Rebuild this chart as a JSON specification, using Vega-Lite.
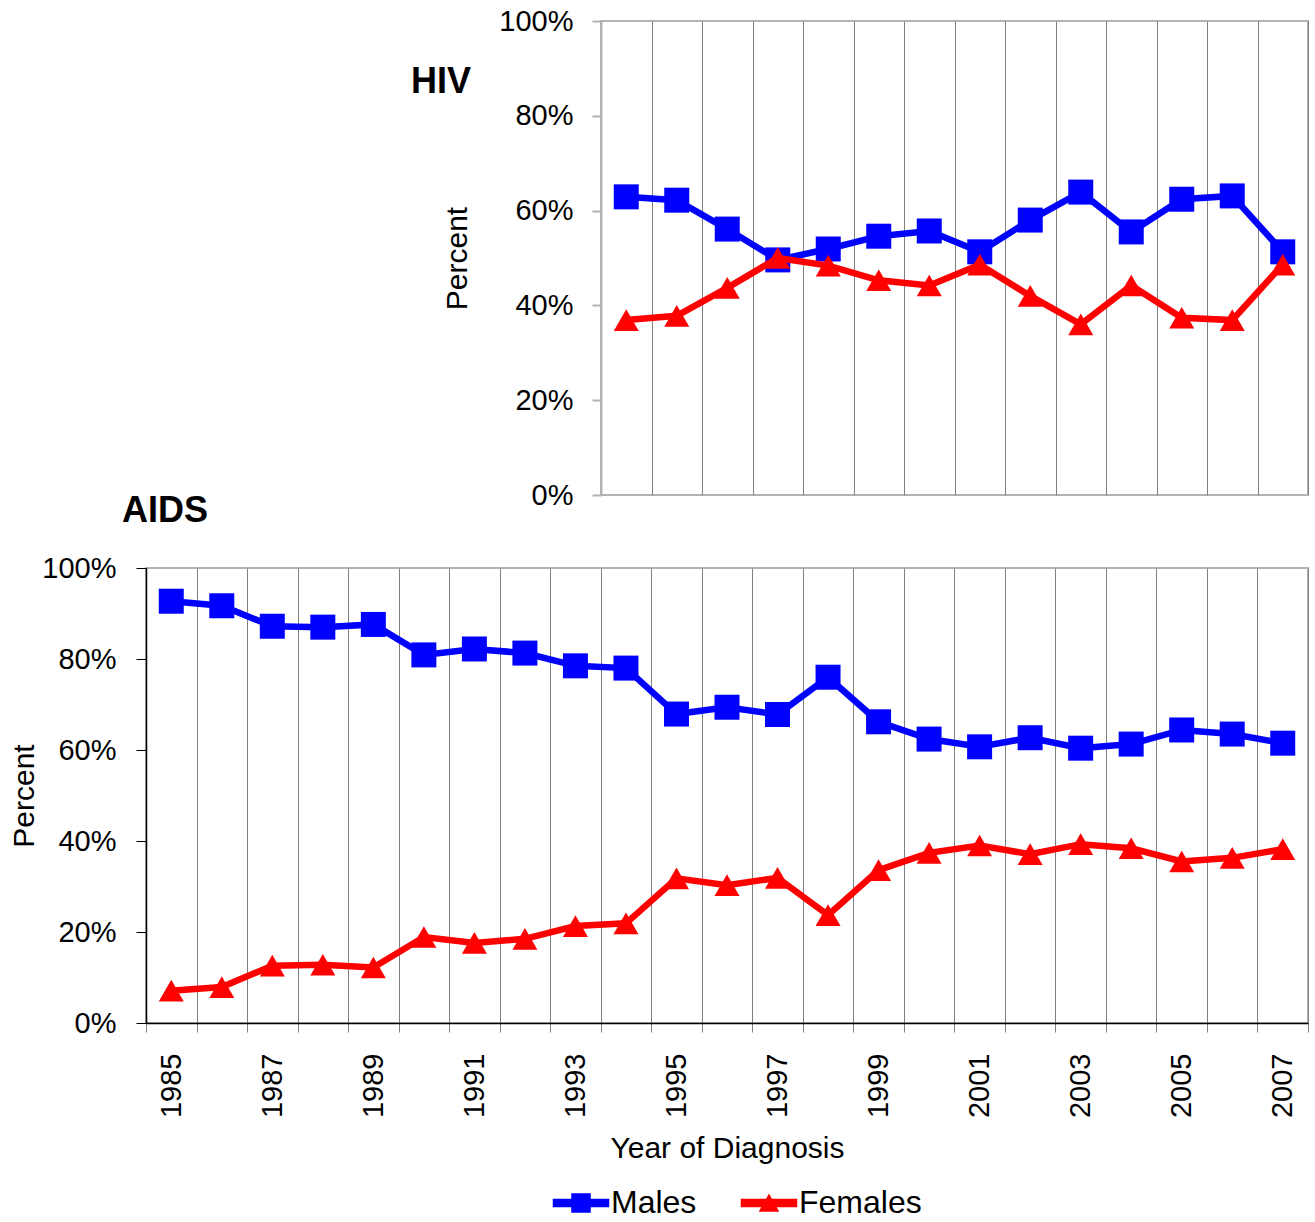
{
  "$schema": "https://vega.github.io/schema/vega-lite/v6.json",
  "padding": {"left": 8, "top": 6, "right": 0, "bottom": 0},
  "background": "white",
  "bounds": "flush",
  "spacing": 547,
  "config": {
    "font": "Liberation Sans",
    "view": {"stroke": "#b3b3b3", "strokeWidth": 2},
    "axis": {"labelFont": "Liberation Sans", "titleFont": "Liberation Sans", "labelColor": "#000", "titleColor": "#000", "labelFontSize": 29, "titleFontSize": 30, "titleFontWeight": "normal"},
    "title": {"font": "Liberation Sans", "fontSize": 36, "fontWeight": "bold", "color": "#000"}
  },
  "datasets": {
    "hiv": [
      {"year": 1994, "sex": "Males", "pct": 62.9}, {"year": 1995, "sex": "Males", "pct": 62.2},
      {"year": 1996, "sex": "Males", "pct": 56.1}, {"year": 1997, "sex": "Males", "pct": 49.6},
      {"year": 1998, "sex": "Males", "pct": 51.9}, {"year": 1999, "sex": "Males", "pct": 54.6},
      {"year": 2000, "sex": "Males", "pct": 55.7}, {"year": 2001, "sex": "Males", "pct": 51.3},
      {"year": 2002, "sex": "Males", "pct": 58.0}, {"year": 2003, "sex": "Males", "pct": 63.9},
      {"year": 2004, "sex": "Males", "pct": 55.5}, {"year": 2005, "sex": "Males", "pct": 62.4},
      {"year": 2006, "sex": "Males", "pct": 63.1}, {"year": 2007, "sex": "Males", "pct": 51.3},
      {"year": 1994, "sex": "Females", "pct": 36.9}, {"year": 1995, "sex": "Females", "pct": 37.8},
      {"year": 1996, "sex": "Females", "pct": 43.7}, {"year": 1997, "sex": "Females", "pct": 50.0},
      {"year": 1998, "sex": "Females", "pct": 48.4}, {"year": 1999, "sex": "Females", "pct": 45.3},
      {"year": 2000, "sex": "Females", "pct": 44.2}, {"year": 2001, "sex": "Females", "pct": 48.6},
      {"year": 2002, "sex": "Females", "pct": 42.0}, {"year": 2003, "sex": "Females", "pct": 36.0},
      {"year": 2004, "sex": "Females", "pct": 44.2}, {"year": 2005, "sex": "Females", "pct": 37.4},
      {"year": 2006, "sex": "Females", "pct": 36.9}, {"year": 2007, "sex": "Females", "pct": 48.6}
    ],
    "aids": [
      {"year": 1985, "sex": "Males", "pct": 92.7}, {"year": 1986, "sex": "Males", "pct": 91.7},
      {"year": 1987, "sex": "Males", "pct": 87.2}, {"year": 1988, "sex": "Males", "pct": 87.0},
      {"year": 1989, "sex": "Males", "pct": 87.6}, {"year": 1990, "sex": "Males", "pct": 80.9},
      {"year": 1991, "sex": "Males", "pct": 82.2}, {"year": 1992, "sex": "Males", "pct": 81.3},
      {"year": 1993, "sex": "Males", "pct": 78.5}, {"year": 1994, "sex": "Males", "pct": 78.0},
      {"year": 1995, "sex": "Males", "pct": 67.9}, {"year": 1996, "sex": "Males", "pct": 69.4},
      {"year": 1997, "sex": "Males", "pct": 67.8}, {"year": 1998, "sex": "Males", "pct": 76.0},
      {"year": 1999, "sex": "Males", "pct": 66.2}, {"year": 2000, "sex": "Males", "pct": 62.4},
      {"year": 2001, "sex": "Males", "pct": 60.7}, {"year": 2002, "sex": "Males", "pct": 62.7},
      {"year": 2003, "sex": "Males", "pct": 60.4}, {"year": 2004, "sex": "Males", "pct": 61.3},
      {"year": 2005, "sex": "Males", "pct": 64.4}, {"year": 2006, "sex": "Males", "pct": 63.5},
      {"year": 2007, "sex": "Males", "pct": 61.5},
      {"year": 1985, "sex": "Females", "pct": 7.1}, {"year": 1986, "sex": "Females", "pct": 7.9},
      {"year": 1987, "sex": "Females", "pct": 12.6}, {"year": 1988, "sex": "Females", "pct": 12.8},
      {"year": 1989, "sex": "Females", "pct": 12.2}, {"year": 1990, "sex": "Females", "pct": 18.9},
      {"year": 1991, "sex": "Females", "pct": 17.6}, {"year": 1992, "sex": "Females", "pct": 18.5},
      {"year": 1993, "sex": "Females", "pct": 21.3}, {"year": 1994, "sex": "Females", "pct": 21.9},
      {"year": 1995, "sex": "Females", "pct": 31.8}, {"year": 1996, "sex": "Females", "pct": 30.3},
      {"year": 1997, "sex": "Females", "pct": 31.9}, {"year": 1998, "sex": "Females", "pct": 23.7},
      {"year": 1999, "sex": "Females", "pct": 33.6}, {"year": 2000, "sex": "Females", "pct": 37.4},
      {"year": 2001, "sex": "Females", "pct": 39.0}, {"year": 2002, "sex": "Females", "pct": 37.1},
      {"year": 2003, "sex": "Females", "pct": 39.3}, {"year": 2004, "sex": "Females", "pct": 38.4},
      {"year": 2005, "sex": "Females", "pct": 35.5}, {"year": 2006, "sex": "Females", "pct": 36.3},
      {"year": 2007, "sex": "Females", "pct": 38.2}
    ]
  },
  "vconcat": [
    {
      "bounds": "flush",
      "spacing": 0,
      "hconcat": [
        {
          "width": 455,
          "height": 474,
          "data": {"values": [{"k": 1}]},
          "mark": {"type": "point", "opacity": 0},
          "view": {"stroke": null}
        },
        {
          "width": 707,
          "height": 474,
          "data": {"name": "hiv"},
          "title": {"text": "HIV", "anchor": "start", "frame": "group", "dx": -190, "dy": 122, "offset": 0, "baseline": "alphabetic"},
          "encoding": {
            "x": {"field": "year", "type": "ordinal", "scale": {"type": "band", "paddingInner": 0, "paddingOuter": 0},
              "axis": {"tickBand": "extent", "grid": true, "gridColor": "#7f7f7f", "gridWidth": 1, "labels": false, "ticks": false, "domain": false, "title": null}},
            "y": {"field": "pct", "type": "quantitative", "scale": {"domain": [0, 100]},
              "axis": {"values": [0, 20, 40, 60, 80, 100], "labelExpr": "datum.value + '%'", "grid": false, "domainColor": "#b3b3b3", "domainWidth": 2, "tickColor": "#b3b3b3", "tickWidth": 2, "tickSize": 9, "labelPadding": 19, "title": "Percent", "titlePadding": 26}},
            "color": {"field": "sex", "type": "nominal", "scale": {"domain": ["Males", "Females"], "range": ["#0000ff", "#ff0000"]},
              "legend": {"orient": "none", "legendX": 419, "legendY": 1166, "direction": "horizontal", "title": null,
                "labelFontSize": 32, "labelFont": "Liberation Sans", "labelColor": "#000", "symbolSize": 400, "labelOffset": 14, "columnPadding": 41, "padding": 0,
                "encode": {"symbols": {"update": {
                  "shape": {"signal": "datum.value === 'Males' ? 'M-2.75,-0.35H2.75V0.35H-2.75Z M-0.9,-0.9H0.9V0.9H-0.9Z' : 'M-2.75,-0.35H2.75V0.35H-2.75Z M0,-0.8L0.9,0.8H-0.9Z'"},
                  "fill": {"signal": "datum.value === 'Males' ? '#0000ff' : '#ff0000'"},
                  "stroke": {"value": "transparent"},
                  "opacity": {"value": 1}}}}}}
          },
          "layer": [
            {"transform": [{"filter": "datum.sex === 'Males'"}], "mark": {"type": "line", "strokeWidth": 6.5}},
            {"transform": [{"filter": "datum.sex === 'Males'"}], "mark": {"type": "point", "filled": true, "opacity": 1, "size": 625, "shape": "square"}},
            {"transform": [{"filter": "datum.sex === 'Females'"}], "mark": {"type": "line", "strokeWidth": 6.5}},
            {"transform": [{"filter": "datum.sex === 'Females'"}], "mark": {"type": "point", "filled": true, "opacity": 1, "size": 625, "shape": "triangle-up"}}
          ]
        }
      ]
    },
    {
      "width": 1162,
      "height": 455,
      "data": {"name": "aids"},
      "title": {"text": "AIDS", "anchor": "start", "frame": "group", "dx": -24, "offset": 24},
      "encoding": {
        "x": {"field": "year", "type": "ordinal", "scale": {"type": "band", "paddingInner": 0, "paddingOuter": 0},
          "axis": {"tickBand": "extent", "grid": true, "gridColor": "#7f7f7f", "gridWidth": 1, "ticks": true, "tickColor": "#7f7f7f", "tickSize": 9,
            "domainColor": "#000", "domainWidth": 1.5, "labelAngle": -90, "labelPadding": 21, "labelOverlap": false, "labelBound": false,
            "labelExpr": "datum.value % 2 == 1 ? datum.label : ''", "title": "Year of Diagnosis", "titlePadding": 16}},
        "y": {"field": "pct", "type": "quantitative", "scale": {"domain": [0, 100]},
          "axis": {"values": [0, 20, 40, 60, 80, 100], "labelExpr": "datum.value + '%'", "grid": false, "domainColor": "#000", "domainWidth": 1.5, "tickColor": "#000", "tickSize": 10, "labelPadding": 20, "title": "Percent", "titlePadding": 2}},
        "color": {"field": "sex", "type": "nominal", "scale": {"domain": ["Males", "Females"], "range": ["#0000ff", "#ff0000"]},
          "legend": {"orient": "none", "legendX": 419, "legendY": 1166, "direction": "horizontal", "title": null,
            "labelFontSize": 32, "labelFont": "Liberation Sans", "labelColor": "#000", "symbolSize": 400, "labelOffset": 14, "columnPadding": 41, "padding": 0,
            "encode": {"symbols": {"update": {
              "shape": {"signal": "datum.value === 'Males' ? 'M-2.75,-0.35H2.75V0.35H-2.75Z M-0.9,-0.9H0.9V0.9H-0.9Z' : 'M-2.75,-0.35H2.75V0.35H-2.75Z M0,-0.8L0.9,0.8H-0.9Z'"},
              "fill": {"signal": "datum.value === 'Males' ? '#0000ff' : '#ff0000'"},
              "stroke": {"value": "transparent"},
              "opacity": {"value": 1}}}}}}
      },
      "layer": [
        {"transform": [{"filter": "datum.sex === 'Males'"}], "mark": {"type": "line", "strokeWidth": 6.5}},
        {"transform": [{"filter": "datum.sex === 'Males'"}], "mark": {"type": "point", "filled": true, "opacity": 1, "size": 625, "shape": "square"}},
        {"transform": [{"filter": "datum.sex === 'Females'"}], "mark": {"type": "line", "strokeWidth": 6.5}},
        {"transform": [{"filter": "datum.sex === 'Females'"}], "mark": {"type": "point", "filled": true, "opacity": 1, "size": 625, "shape": "triangle-up"}}
      ]
    }
  ]
}
